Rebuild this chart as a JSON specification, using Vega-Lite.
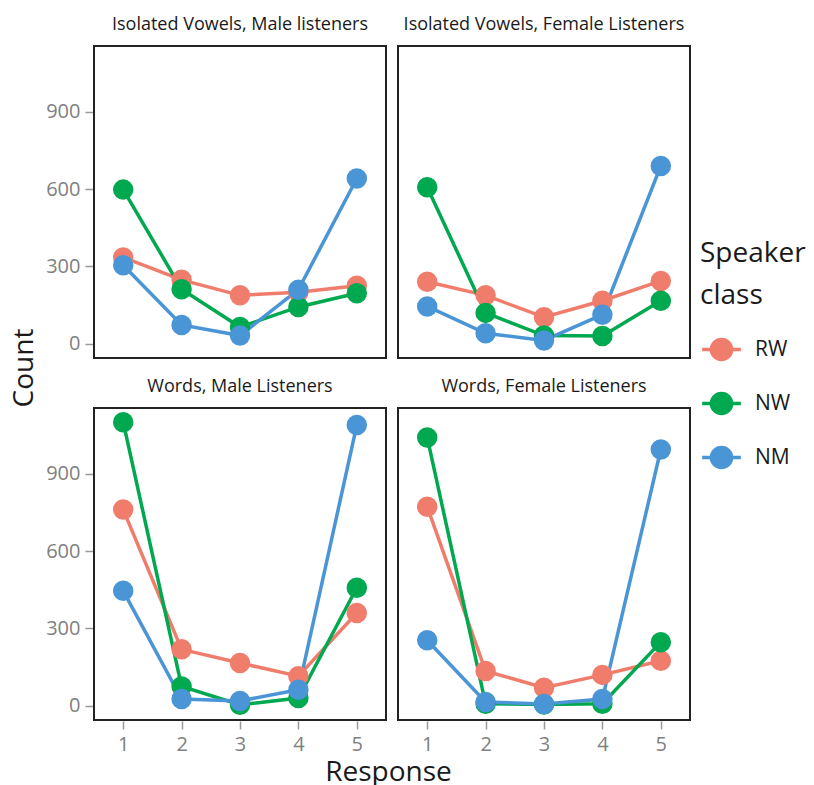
{
  "$schema": "https://vega.github.io/schema/vega-lite/v6.json",
  "background": "white",
  "padding": {"left": 11, "top": 15, "right": 5, "bottom": 0},
  "title": {"text": "Response", "orient": "bottom", "anchor": "middle", "fontSize": 28, "fontWeight": "normal", "font": "Open Sans", "color": "#1a1a1a", "offset": 5, "dx": -20, "frame": "bounds"},
  "config": {
    "font": "Open Sans",
    "view": {"stroke": "#222222", "strokeWidth": 2},
    "axis": {"grid": false, "domain": false, "tickColor": "#999999", "tickSize": 8, "tickWidth": 1.5, "labelColor": "#7f7f7f", "labelFontSize": 20, "labelFont": "Open Sans", "labelPadding": 5}
  },
  "data": {"values": [
    {"panel": "Isolated Vowels, Male listeners", "speaker": "RW", "response": 1, "count": 335},
    {"panel": "Isolated Vowels, Male listeners", "speaker": "RW", "response": 2, "count": 248},
    {"panel": "Isolated Vowels, Male listeners", "speaker": "RW", "response": 3, "count": 188},
    {"panel": "Isolated Vowels, Male listeners", "speaker": "RW", "response": 4, "count": 200},
    {"panel": "Isolated Vowels, Male listeners", "speaker": "RW", "response": 5, "count": 225},
    {"panel": "Isolated Vowels, Female Listeners", "speaker": "RW", "response": 1, "count": 241},
    {"panel": "Isolated Vowels, Female Listeners", "speaker": "RW", "response": 2, "count": 188},
    {"panel": "Isolated Vowels, Female Listeners", "speaker": "RW", "response": 3, "count": 103},
    {"panel": "Isolated Vowels, Female Listeners", "speaker": "RW", "response": 4, "count": 167},
    {"panel": "Isolated Vowels, Female Listeners", "speaker": "RW", "response": 5, "count": 244},
    {"panel": "Words, Male Listeners", "speaker": "RW", "response": 1, "count": 761},
    {"panel": "Words, Male Listeners", "speaker": "RW", "response": 2, "count": 219},
    {"panel": "Words, Male Listeners", "speaker": "RW", "response": 3, "count": 166},
    {"panel": "Words, Male Listeners", "speaker": "RW", "response": 4, "count": 115},
    {"panel": "Words, Male Listeners", "speaker": "RW", "response": 5, "count": 360},
    {"panel": "Words, Female Listeners", "speaker": "RW", "response": 1, "count": 772},
    {"panel": "Words, Female Listeners", "speaker": "RW", "response": 2, "count": 135},
    {"panel": "Words, Female Listeners", "speaker": "RW", "response": 3, "count": 70},
    {"panel": "Words, Female Listeners", "speaker": "RW", "response": 4, "count": 120},
    {"panel": "Words, Female Listeners", "speaker": "RW", "response": 5, "count": 175},
    {"panel": "Isolated Vowels, Male listeners", "speaker": "NW", "response": 1, "count": 598},
    {"panel": "Isolated Vowels, Male listeners", "speaker": "NW", "response": 2, "count": 212},
    {"panel": "Isolated Vowels, Male listeners", "speaker": "NW", "response": 3, "count": 65},
    {"panel": "Isolated Vowels, Male listeners", "speaker": "NW", "response": 4, "count": 143},
    {"panel": "Isolated Vowels, Male listeners", "speaker": "NW", "response": 5, "count": 196},
    {"panel": "Isolated Vowels, Female Listeners", "speaker": "NW", "response": 1, "count": 607},
    {"panel": "Isolated Vowels, Female Listeners", "speaker": "NW", "response": 2, "count": 120},
    {"panel": "Isolated Vowels, Female Listeners", "speaker": "NW", "response": 3, "count": 32},
    {"panel": "Isolated Vowels, Female Listeners", "speaker": "NW", "response": 4, "count": 30},
    {"panel": "Isolated Vowels, Female Listeners", "speaker": "NW", "response": 5, "count": 167},
    {"panel": "Words, Male Listeners", "speaker": "NW", "response": 1, "count": 1100},
    {"panel": "Words, Male Listeners", "speaker": "NW", "response": 2, "count": 75},
    {"panel": "Words, Male Listeners", "speaker": "NW", "response": 3, "count": 4},
    {"panel": "Words, Male Listeners", "speaker": "NW", "response": 4, "count": 30},
    {"panel": "Words, Male Listeners", "speaker": "NW", "response": 5, "count": 458},
    {"panel": "Words, Female Listeners", "speaker": "NW", "response": 1, "count": 1041},
    {"panel": "Words, Female Listeners", "speaker": "NW", "response": 2, "count": 8},
    {"panel": "Words, Female Listeners", "speaker": "NW", "response": 3, "count": 5},
    {"panel": "Words, Female Listeners", "speaker": "NW", "response": 4, "count": 8},
    {"panel": "Words, Female Listeners", "speaker": "NW", "response": 5, "count": 247},
    {"panel": "Isolated Vowels, Male listeners", "speaker": "NM", "response": 1, "count": 305},
    {"panel": "Isolated Vowels, Male listeners", "speaker": "NM", "response": 2, "count": 73},
    {"panel": "Isolated Vowels, Male listeners", "speaker": "NM", "response": 3, "count": 32},
    {"panel": "Isolated Vowels, Male listeners", "speaker": "NM", "response": 4, "count": 210},
    {"panel": "Isolated Vowels, Male listeners", "speaker": "NM", "response": 5, "count": 641},
    {"panel": "Isolated Vowels, Female Listeners", "speaker": "NM", "response": 1, "count": 145},
    {"panel": "Isolated Vowels, Female Listeners", "speaker": "NM", "response": 2, "count": 41},
    {"panel": "Isolated Vowels, Female Listeners", "speaker": "NM", "response": 3, "count": 13},
    {"panel": "Isolated Vowels, Female Listeners", "speaker": "NM", "response": 4, "count": 113},
    {"panel": "Isolated Vowels, Female Listeners", "speaker": "NM", "response": 5, "count": 690},
    {"panel": "Words, Male Listeners", "speaker": "NM", "response": 1, "count": 446},
    {"panel": "Words, Male Listeners", "speaker": "NM", "response": 2, "count": 26},
    {"panel": "Words, Male Listeners", "speaker": "NM", "response": 3, "count": 19},
    {"panel": "Words, Male Listeners", "speaker": "NM", "response": 4, "count": 62},
    {"panel": "Words, Male Listeners", "speaker": "NM", "response": 5, "count": 1089},
    {"panel": "Words, Female Listeners", "speaker": "NM", "response": 1, "count": 254},
    {"panel": "Words, Female Listeners", "speaker": "NM", "response": 2, "count": 15},
    {"panel": "Words, Female Listeners", "speaker": "NM", "response": 3, "count": 7},
    {"panel": "Words, Female Listeners", "speaker": "NM", "response": 4, "count": 26},
    {"panel": "Words, Female Listeners", "speaker": "NM", "response": 5, "count": 994}
  ]},
  "facet": {
    "field": "panel", "type": "nominal",
    "sort": ["Isolated Vowels, Male listeners", "Isolated Vowels, Female Listeners", "Words, Male Listeners", "Words, Female Listeners"],
    "header": {"title": "Count", "titleOrient": "left", "titleFontSize": 28, "titleFontWeight": "normal", "titleFont": "Open Sans", "titleColor": "#1a1a1a", "titlePadding": 6,
      "labelFontSize": 18, "labelFont": "Open Sans", "labelColor": "#1a1a1a", "labelPadding": 12}
  },
  "columns": 2,
  "spacing": {"column": 10, "row": 18},
  "spec": {
    "width": 292,
    "height": 312,
    "encoding": {
      "x": {"field": "response", "type": "quantitative", "title": null, "scale": {"domain": [0.5, 5.5], "nice": false, "zero": false}, "axis": {"values": [1, 2, 3, 4, 5], "format": "d"}},
      "y": {"field": "count", "type": "quantitative", "title": null, "scale": {"domain": [-55, 1155], "nice": false, "zero": false}, "axis": {"values": [0, 300, 600, 900]}},
      "color": {"field": "speaker", "type": "nominal", "scale": {"domain": ["RW", "NW", "NM"], "range": ["#F07C6C", "#00A84F", "#4A95D6"]},
        "legend": {"title": ["Speaker", "class"], "titleFontSize": 28, "titleFontWeight": "normal", "titleColor": "#1a1a1a", "titleLineHeight": 42, "titlePadding": 18, "labelFontSize": 21, "labelColor": "#1a1a1a", "labelOffset": 12, "rowPadding": 15,
          "symbolType": "M-1,0H1M-0.52,0a0.52,0.52 0 1,0 1.04,0a0.52,0.52 0 1,0 -1.04,0", "symbolSize": 1500, "symbolStrokeWidth": 3.5, "orient": "none", "legendX": 606, "legendY": 194,
          "encode": {"symbols": {"update": {"fill": {"scale": "color", "field": "value"}, "stroke": {"scale": "color", "field": "value"}, "opacity": {"value": 1}}}}}}
    },
    "layer": [
      {"mark": {"type": "line", "strokeWidth": 3.5}},
      {"mark": {"type": "point", "filled": true, "size": 420, "opacity": 1}}
    ]
  }
}
